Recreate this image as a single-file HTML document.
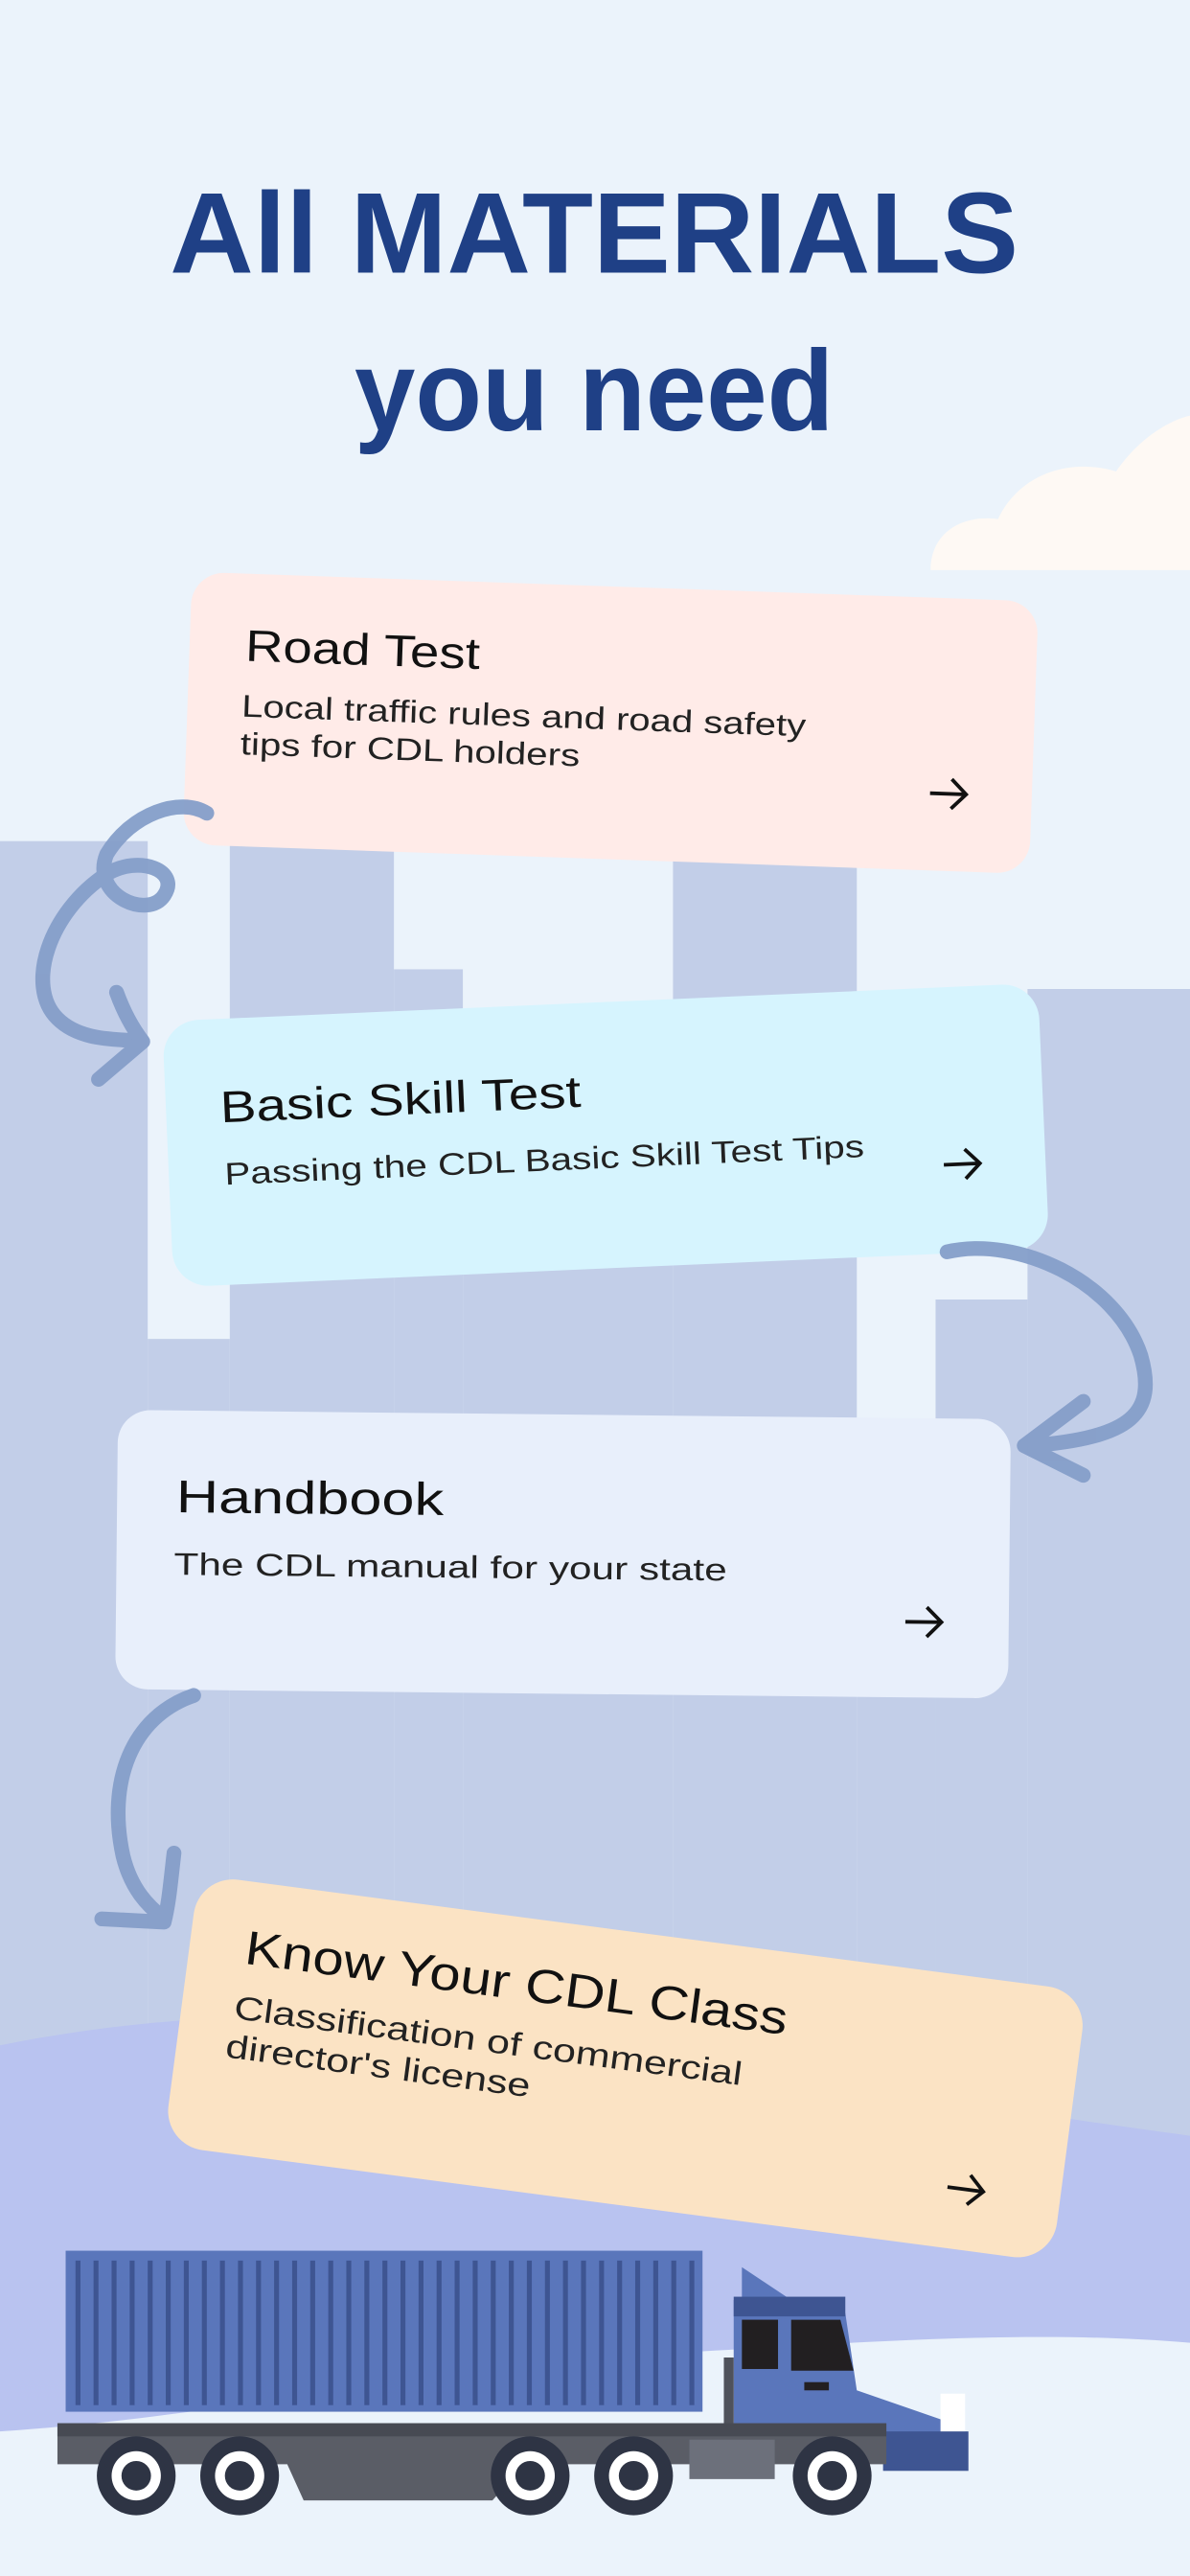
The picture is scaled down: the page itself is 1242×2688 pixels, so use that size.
<!DOCTYPE html>
<html><head><meta charset="utf-8"><style>
html,body{margin:0;padding:0;background:#ebf3fb;}
svg{display:block;}
</style></head><body>
<svg width="1242" height="2688" viewBox="0 0 725 1568" preserveAspectRatio="none" xmlns="http://www.w3.org/2000/svg" font-family="Liberation Sans, sans-serif">
<rect width="725" height="1568" fill="#ebf3fb"/>
<path d="M567 347 C567 325 585 313 608 316 C620 290 650 278 680 287 C695 265 715 255 725 253 L725 347 Z" fill="#fef9f4"/>
<g fill="#c2cee8">
<rect x="0" y="512" width="90" height="1056"/>
<rect x="90" y="815" width="50" height="753"/>
<rect x="140" y="512" width="100" height="1056"/>
<rect x="240" y="590" width="42" height="978"/>
<rect x="282" y="720" width="128" height="848"/>
<rect x="410" y="522" width="112" height="1046"/>
<rect x="522" y="865" width="48" height="703"/>
<rect x="626" y="602" width="99" height="966"/>
<rect x="570" y="791" width="56" height="777"/>
</g>
<path d="M0 1245 C150 1215 300 1225 450 1255 C550 1275 650 1290 725 1300 L725 1568 L0 1568 Z" fill="#b9c3f0"/>
<path d="M0 1480 C150 1470 250 1440 450 1430 C580 1422 650 1420 725 1426 L725 1568 L0 1568 Z" fill="#ebf3fb"/>
<text x="362" y="166" text-anchor="middle" font-size="70" font-weight="bold" fill="#1f4086" textLength="517" lengthAdjust="spacingAndGlyphs">All MATERIALS</text>
<text x="362" y="262" text-anchor="middle" font-size="70" font-weight="bold" fill="#1f4086" textLength="292" lengthAdjust="spacingAndGlyphs">you need</text>
<g transform="rotate(2 372 440)">
<rect x="114" y="357" width="516" height="166" rx="20" fill="#ffebe8"/>
<text x="148" y="410" font-size="27" fill="#111" textLength="143" lengthAdjust="spacingAndGlyphs">Road Test</text>
<text x="147" y="444" font-size="19" fill="#222" textLength="344" lengthAdjust="spacingAndGlyphs">Local traffic rules and road safety</text>
<text x="147" y="467" font-size="19" fill="#222" textLength="207" lengthAdjust="spacingAndGlyphs">tips for CDL holders</text>
<path d="M568 476 H590 M581 467 L590 476 L581 485" stroke="#111" stroke-width="2.2" fill="none"/>
</g>
<g transform="rotate(-2.5 369 690)">
<rect x="102" y="610" width="534" height="162" rx="22" fill="#d6f4fe"/>
<text x="135" y="673" font-size="27" fill="#111" textLength="220" lengthAdjust="spacingAndGlyphs">Basic Skill Test</text>
<text x="136" y="711" font-size="19" fill="#222" textLength="390" lengthAdjust="spacingAndGlyphs">Passing the CDL Basic Skill Test Tips</text>
<path d="M574 718 H596 M587 709 L596 718 L587 727" stroke="#111" stroke-width="2.2" fill="none"/>
</g>
<g transform="rotate(0.6 343 947)">
<rect x="71" y="861" width="544" height="170" rx="20" fill="#e8effb"/>
<text x="107" y="923" font-size="28" fill="#111" textLength="163" lengthAdjust="spacingAndGlyphs">Handbook</text>
<text x="106" y="961" font-size="19" fill="#222" textLength="337" lengthAdjust="spacingAndGlyphs">The CDL manual for your state</text>
<path d="M552 985 H574 M565 976 L574 985 L565 994" stroke="#111" stroke-width="2.2" fill="none"/>
</g>
<g transform="rotate(7.5 381 1259)">
<rect x="108" y="1176" width="546" height="166" rx="24" fill="#fbe3c4"/>
<text x="142" y="1226" font-size="29" fill="#111" textLength="333" lengthAdjust="spacingAndGlyphs">Know Your CDL Class</text>
<text x="140" y="1260" font-size="20" fill="#222" textLength="312" lengthAdjust="spacingAndGlyphs">Classification of commercial</text>
<text x="138" y="1284" font-size="20" fill="#222" textLength="187" lengthAdjust="spacingAndGlyphs">director's license</text>
<path d="M585 1305 H607 M598 1296 L607 1305 L598 1314" stroke="#111" stroke-width="2.2" fill="none"/>
</g>
<g stroke="#859ec9" stroke-width="9" fill="none" stroke-linecap="round" stroke-linejoin="round" opacity="0.95">
<path d="M126 495 C110 485 80 495 65 520 C55 545 90 560 100 545 C110 530 85 520 65 532 C30 555 15 600 35 620 C50 635 75 632 86 634"/>
<path d="M71 604 C75 615 80 625 87 634 L60 657"/>
<path d="M577 762 C620 752 680 780 695 825 C705 860 690 875 628 880"/>
<path d="M660 853 L624 880 L660 898"/>
<path d="M118 1032 C80 1045 65 1085 75 1130 C80 1150 90 1160 100 1168"/>
<path d="M106 1128 C104 1145 103 1158 100 1170 L62 1168"/>
</g>
<rect x="40" y="1370" width="388" height="98" fill="#5a76bb"/>
<g fill="#3e5592">
<rect x="46" y="1376" width="3" height="88"/><rect x="57" y="1376" width="3" height="88"/><rect x="68" y="1376" width="3" height="88"/><rect x="79" y="1376" width="3" height="88"/><rect x="90" y="1376" width="3" height="88"/><rect x="101" y="1376" width="3" height="88"/><rect x="112" y="1376" width="3" height="88"/><rect x="123" y="1376" width="3" height="88"/><rect x="134" y="1376" width="3" height="88"/><rect x="145" y="1376" width="3" height="88"/><rect x="156" y="1376" width="3" height="88"/><rect x="167" y="1376" width="3" height="88"/><rect x="178" y="1376" width="3" height="88"/><rect x="189" y="1376" width="3" height="88"/><rect x="200" y="1376" width="3" height="88"/><rect x="211" y="1376" width="3" height="88"/><rect x="222" y="1376" width="3" height="88"/><rect x="233" y="1376" width="3" height="88"/><rect x="244" y="1376" width="3" height="88"/><rect x="255" y="1376" width="3" height="88"/><rect x="266" y="1376" width="3" height="88"/><rect x="277" y="1376" width="3" height="88"/><rect x="288" y="1376" width="3" height="88"/><rect x="299" y="1376" width="3" height="88"/><rect x="310" y="1376" width="3" height="88"/><rect x="321" y="1376" width="3" height="88"/><rect x="332" y="1376" width="3" height="88"/><rect x="343" y="1376" width="3" height="88"/><rect x="354" y="1376" width="3" height="88"/><rect x="365" y="1376" width="3" height="88"/><rect x="376" y="1376" width="3" height="88"/><rect x="387" y="1376" width="3" height="88"/><rect x="398" y="1376" width="3" height="88"/><rect x="409" y="1376" width="3" height="88"/><rect x="420" y="1376" width="3" height="88"/>
</g>
<path d="M452 1380 L485 1402 L452 1402 Z" fill="#5a76bb"/>
<path d="M447 1400 H510 L515 1408 L522 1455 L580 1475 L585 1480 L585 1490 H447 Z" fill="#5a76bb"/>
<rect x="447" y="1398" width="68" height="12" fill="#3e5592"/>
<rect x="452" y="1412" width="22" height="30" fill="#221f21"/>
<path d="M482 1412 H512 L520 1443 H482 Z" fill="#221f21"/>
<rect x="490" y="1450" width="15" height="5" fill="#221f21"/>
<rect x="573" y="1457" width="15" height="24" fill="#fff"/>
<rect x="538" y="1480" width="52" height="24" fill="#3e5592"/>
<rect x="441" y="1435" width="6" height="45" fill="#4f525b"/>
<path d="M35 1475 H540 V1500 H320 L300 1522 H185 L175 1500 H35 Z" fill="#5a5d66"/>
<rect x="35" y="1475" width="505" height="8" fill="#474a53"/>
<rect x="420" y="1485" width="52" height="24" fill="#6c707b"/>
<g>
<circle cx="83" cy="1507" r="24" fill="#2e3444"/><circle cx="83" cy="1507" r="15" fill="#fff"/><circle cx="83" cy="1507" r="9" fill="#2e3444"/>
<circle cx="146" cy="1507" r="24" fill="#2e3444"/><circle cx="146" cy="1507" r="15" fill="#fff"/><circle cx="146" cy="1507" r="9" fill="#2e3444"/>
<circle cx="323" cy="1507" r="24" fill="#2e3444"/><circle cx="323" cy="1507" r="15" fill="#fff"/><circle cx="323" cy="1507" r="9" fill="#2e3444"/>
<circle cx="386" cy="1507" r="24" fill="#2e3444"/><circle cx="386" cy="1507" r="15" fill="#fff"/><circle cx="386" cy="1507" r="9" fill="#2e3444"/>
<circle cx="507" cy="1507" r="24" fill="#2e3444"/><circle cx="507" cy="1507" r="15" fill="#fff"/><circle cx="507" cy="1507" r="9" fill="#2e3444"/>
</g>
</svg>
</body></html>
